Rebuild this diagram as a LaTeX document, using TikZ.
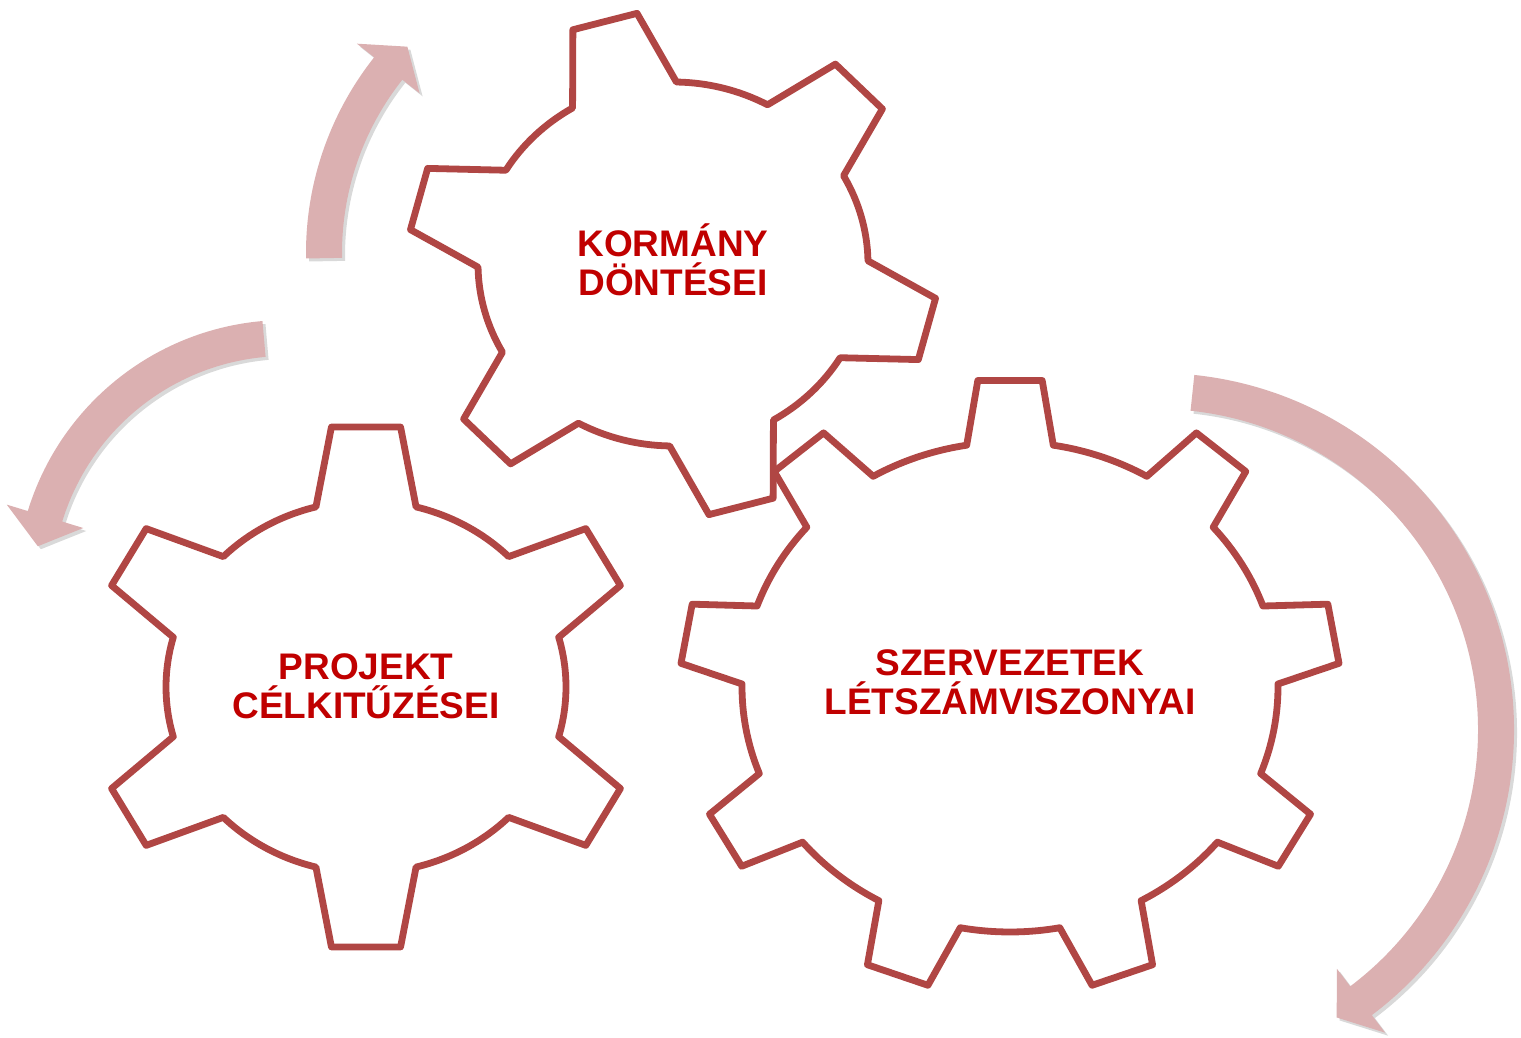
\documentclass[tikz,border=0pt]{standalone}
\usepackage{fontspec}
\setmainfont{Liberation Sans}
\usetikzlibrary{shadows}
\definecolor{gearred}{RGB}{176,70,68}
\definecolor{arrowpink}{RGB}{219,176,177}
\definecolor{labelred}{RGB}{192,0,0}
\tikzset{
    gear/.style={draw=gearred, line width=3.4pt, line join=round, fill=white,
        drop shadow={shadow xshift=1pt, shadow yshift=-1pt, opacity=.25}},
    turn/.style={fill=arrowpink,
        drop shadow={shadow xshift=1.5pt, shadow yshift=-1.5pt, opacity=.3}},
    gearlabel/.style={text=labelred, align=center, inner sep=0pt,
        font=\fontsize{18.5}{19.5}\selectfont\bfseries},
}
% centre, teeth, first tooth, inner rx, inner ry, outer rx, outer ry, base half-angle, tip half-angle
\newcommand{\gear}[9]{%
    \pgfmathsetmacro{\gstep}{360/#2}
    \draw[gear, shift={#1}] ({#3-#8}:#4 and #5)
        \foreach \k [evaluate=\k as \c using #3+(\k-1)*\gstep] in {1,...,#2} {
            -- ({\c-#9}:#6 and #7) -- ({\c+#9}:#6 and #7) -- ({\c+#8}:#4 and #5)
            arc[start angle=\c+#8, end angle=\c+\gstep-#8, x radius=#4, y radius=#5]
        } -- cycle;
}
% centre, radius, start angle, head angle, tip angle
\newcommand{\turnarrow}[5]{%
    \fill[turn, shift={#1}] ({#3}:{#2+18}) arc[start angle=#3, end angle=#4, radius=#2+18]
        -- ({#4}:{#2+40}) -- ({#5}:{#2}) -- ({#4}:{#2-40}) -- ({#4}:{#2-18})
        arc[start angle=#4, end angle=#3, radius=#2-18] -- cycle;
}

\begin{document}
\begin{tikzpicture}[x=0.5pt, y=0.5pt]
    \useasboundingbox (0,0) rectangle (1521,1038);
    \coordinate (kormanyc) at (673,774);
    \coordinate (projektc) at (366,351);
    \coordinate (szervc) at (1010,351);

    % arrows round the gears
    \turnarrow{(621,785)}{297}{181}{141.6}{136}
    \turnarrow{(286,448)}{252}{95}{163}{170}
    \turnarrow{(1157,308)}{339}{84}{-53}{-58}

    % gears
    \gear{(kormanyc)}{6}{105}{195}{182}{265}{253}{16}{7.2}
    \gear{(projektc)}{6}{90}{200}{186}{276}{262}{14.5}{7.2}
    \gear{(szervc)}{9}{90}{268}{245}{330}{308}{9.3}{5.6}

    \node[gearlabel] (kormany) at ([yshift=2pt]kormanyc) {KORMÁNY\\DÖNTÉSEI};
    \node[gearlabel] (projekt) at ([yshift=0.5pt]projektc) {PROJEKT\\CÉLKITŰZÉSEI};
    \node[gearlabel] (szerv) at ([yshift=2.5pt]szervc) {SZERVEZETEK\\LÉTSZÁMVISZONYAI};
\end{tikzpicture}
\end{document}
